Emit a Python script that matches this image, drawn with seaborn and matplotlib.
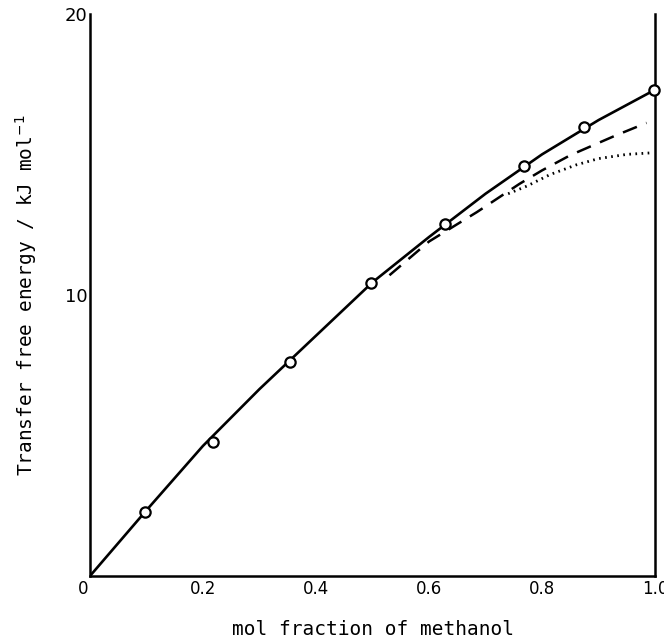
import matplotlib
matplotlib.use("Agg")
import matplotlib.pyplot as plt
import matplotlib.transforms as mtransforms
import seaborn as sns
import pandas as pd

# Data
# measured points (open circles)
x_obs = [0.097, 0.217, 0.354, 0.497, 0.628, 0.768, 0.874, 0.999]
y_obs = [2.27, 4.76, 7.63, 10.41, 12.53, 14.57, 15.97, 17.29]

# smooth solid curve
x_solid = [0.0, 0.1, 0.2, 0.3, 0.4, 0.5, 0.6, 0.7, 0.8, 0.9, 1.0]
y_solid = [0.0, 2.34, 4.63, 6.65, 8.55, 10.45, 12.06, 13.6, 15.0, 16.22, 17.3]

# dashed curve
x_dash = [0.53, 0.60, 0.685, 0.76, 0.80, 0.85, 0.93, 0.985]
y_dash = [10.7, 11.9, 12.95, 13.95, 14.43, 14.97, 15.67, 16.12]

# dotted curve
x_dot = [0.74, 0.773, 0.814, 0.861, 0.90, 0.95, 0.99]
y_dot = [13.6, 13.87, 14.28, 14.63, 14.85, 15.0, 15.05]

x_ticks = [0.0, 0.1, 0.2, 0.3, 0.4, 0.5, 0.6, 0.7, 0.8, 0.9, 1.0]
x_ticklabels = ["0", "", "0.2", "", "0.4", "", "0.6", "", "0.8", "", "1.0"]
y_ticks = [0, 10, 20]
y_ticklabels = ["", "10", "20"]

sns.set_theme(style="white")
plt.rcParams['font.family'] = ['DejaVu Sans']

fig = plt.figure(figsize=(6.64, 6.41), dpi=100)
ax = fig.add_axes([0.1355, 0.1014, 0.851, 0.877])

df_obs = pd.DataFrame({"x": x_obs, "y": y_obs})
df_solid = pd.DataFrame({"x": x_solid, "y": y_solid})
df_dash = pd.DataFrame({"x": x_dash, "y": y_dash})
df_dot = pd.DataFrame({"x": x_dot, "y": y_dot})

sns.lineplot(data=df_solid, x="x", y="y", ax=ax, color="black", lw=1.9)
sns.lineplot(data=df_dash, x="x", y="y", ax=ax, color="black", lw=1.8,
             linestyle=(0, (6, 4)))
sns.lineplot(data=df_dot, x="x", y="y", ax=ax, color="black", lw=2.0,
             linestyle=(0, (0.6, 1.6)))
sns.scatterplot(data=df_obs, x="x", y="y", ax=ax, s=55, marker="o",
                facecolor="white", edgecolor="black", linewidth=1.6, zorder=5,
                clip_on=False)

ax.set_xlim(0, 1.0)
ax.set_ylim(0, 20)
ax.set_xticks(x_ticks)
ax.set_xticklabels(x_ticklabels, fontsize=12)
ax.set_yticks(y_ticks)
ax.set_yticklabels(y_ticklabels, fontsize=13)
ax.tick_params(axis="x", direction="in", length=9, width=1.5, pad=3,
               color="black", labelcolor="black")
ax.tick_params(axis="y", direction="in", length=12, width=1.5, pad=2,
               color="black", labelcolor="black")

# shift the "0" label slightly left as in the reference
lbl0 = ax.get_xticklabels()[0]
lbl0.set_transform(lbl0.get_transform() +
                   mtransforms.ScaledTranslation(-7 / 100, 0, fig.dpi_scale_trans))

for s in ["left", "bottom", "right"]:
    ax.spines[s].set_visible(True)
    ax.spines[s].set_color("black")
    ax.spines[s].set_linewidth(1.8)
ax.spines["top"].set_visible(False)

ax.set_xlabel("mol fraction of methanol", family="DejaVu Sans Mono",
              fontsize=14, labelpad=16, color="black")
ax.set_ylabel("Transfer free energy / kJ mol$^{-1}$", family="DejaVu Sans Mono",
              fontsize=14, labelpad=18, color="black")

fig.savefig("out.png", dpi=100)
